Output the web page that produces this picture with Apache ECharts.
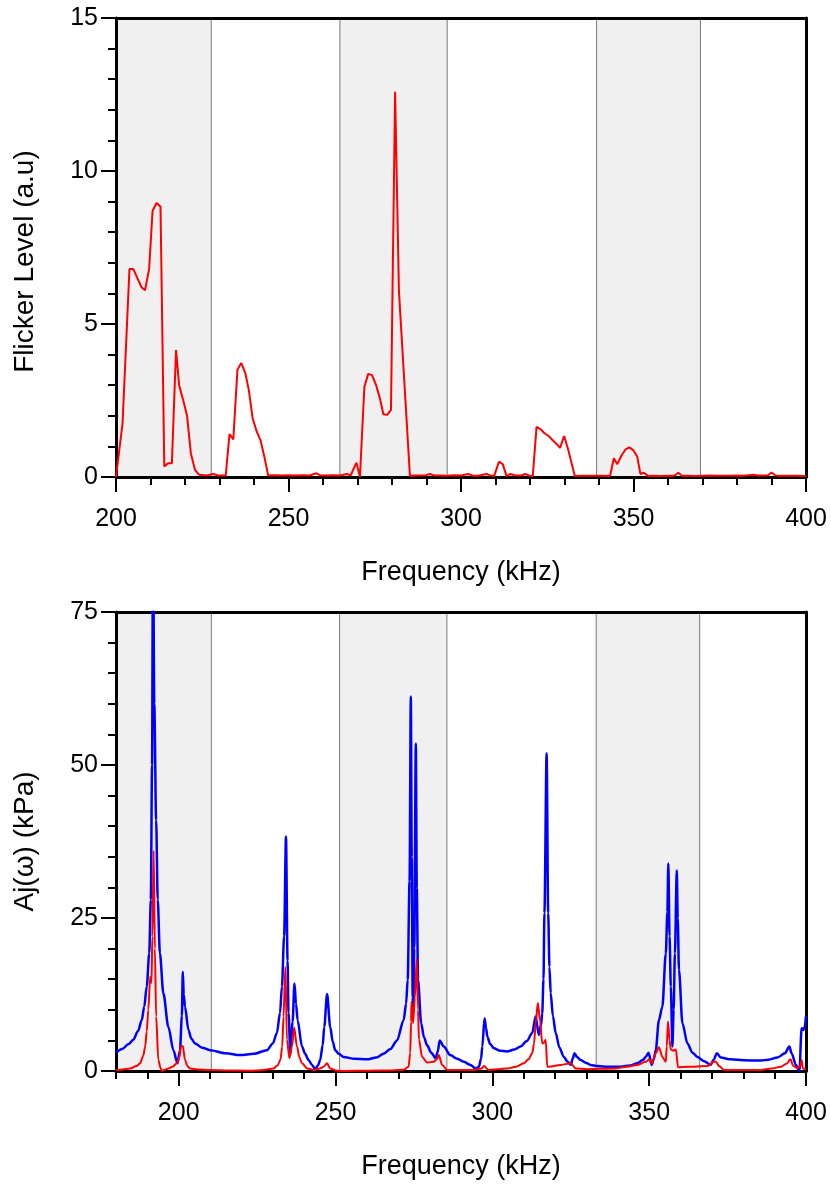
<!DOCTYPE html>
<html>
<head>
<meta charset="utf-8">
<script src="https://cdn.jsdelivr.net/npm/echarts@6/dist/echarts.min.js"></script>
<style>
  html, body { margin: 0; padding: 0; background: #fff; }
  #chart { width: 831px; height: 1184px; }
</style>
</head>
<body>
<div id="chart"></div>
<script>
// top panel: measured flicker level vs frequency [kHz, a.u]
const flickerData = [
  [200, 0], [201.9, 1.75], [203.9, 6.8], [205.0, 6.8], [206.2, 6.5], [207.4, 6.2], [208.4, 6.1],
  [209.6, 6.8], [210.6, 8.7], [211.8, 8.96], [212.9, 8.83], [214.0, 0.34], [215.1, 0.45], [216.2, 0.45],
  [217.4, 4.15], [218.3, 3.0], [219.5, 2.5], [220.6, 2.0], [221.7, 0.77], [222.9, 0.23], [224.1, 0.07],
  [226.3, 0.05], [228.2, 0.1], [229.6, 0.05], [231.8, 0.05], [232.9, 1.4], [234.0, 1.23], [235.2, 3.5],
  [236.3, 3.73], [237.5, 3.39], [238.5, 2.84], [239.6, 1.92], [240.8, 1.48], [241.9, 1.2], [243.1, 0.61],
  [244.1, 0.05], [246, 0.06], [248, 0.05], [250, 0.06], [252, 0.05], [254, 0.06], [256, 0.05],
  [258.1, 0.12], [259.2, 0.05], [261, 0.05], [263, 0.06], [265, 0.05], [266.9, 0.1], [268.0, 0.05],
  [269.7, 0.47], [270.7, 0], [272.0, 2.95], [273.1, 3.37], [274.2, 3.33], [275.4, 3.0], [276.5, 2.57],
  [277.5, 2.05], [278.6, 2.03], [279.7, 2.19], [280.9, 12.59], [282.0, 6.1], [285.2, 0.03], [286.4, 0.05],
  [288, 0.05], [289.8, 0.06], [291.0, 0.1], [292.2, 0.05], [294, 0.05], [296, 0.04], [298, 0.06],
  [300, 0.05], [302.1, 0.1], [303.3, 0.04], [305, 0.04], [307.4, 0.1], [308.5, 0.05], [309.6, 0.03],
  [311.0, 0.5], [312.1, 0.42], [313.2, 0.03], [314.4, 0.1], [315.6, 0.05], [317.4, 0.05], [318.6, 0.1],
  [319.8, 0.04], [320.8, 0.03], [321.9, 1.64], [323.1, 1.56], [324.2, 1.43], [325.4, 1.34], [326.5, 1.21],
  [327.7, 1.08], [328.7, 0.95], [329.9, 1.34], [331.1, 0.88], [332.0, 0.47], [333.0, 0.03], [335, 0.04],
  [337, 0.04], [339, 0.04], [341, 0.04], [343.2, 0.03], [344.3, 0.61], [345.3, 0.42], [346.6, 0.72],
  [347.7, 0.9], [348.8, 0.97], [349.9, 0.88], [351.1, 0.66], [352.0, 0.1], [353.0, 0.14], [354.3, 0.03],
  [356, 0.04], [358, 0.03], [360, 0.04], [361.8, 0.04], [363.0, 0.14], [364.1, 0.04], [366, 0.04],
  [368, 0.03], [370, 0.04], [372, 0.05], [374, 0.04], [376, 0.04], [378, 0.04], [380, 0.05], [382, 0.04],
  [384.8, 0.07], [386, 0.05], [388, 0.05], [389, 0.06], [390.0, 0.15], [391.1, 0.05], [393, 0.04],
  [395, 0.04], [397, 0.04], [400, 0.03]
]

// bottom panel: Aj(w) amplitude [kHz, kPa]
const blueData = [
  [180, 3.0], [182, 3.6], [184, 4.4], [185.5, 5.1], [187, 6.5], [188.2, 8.3], [189, 10.5], [189.8, 13.8],
  [190.6, 19.2], [191.1, 28], [191.5, 50], [191.8, 90], [192.2, 60], [192.8, 41], [193.3, 28], [194.0, 19.2],
  [195.1, 12.7], [196.7, 7.2], [198.3, 3.4], [199.6, 1.25], [200.4, 3.4], [201.0, 9], [201.3, 16.2],
  [201.6, 12.5], [202.0, 10.5], [203.1, 6.7], [204, 5.3], [205.2, 4.5], [207.5, 3.8], [210.0, 3.4],
  [215, 2.9], [219.6, 2.6], [224, 2.8], [228.1, 3.4], [230, 4.5], [231.3, 6.2], [232.3, 9.5], [232.9, 13.8],
  [233.6, 22], [234.2, 38.3], [234.7, 18], [235.0, 9.5], [235.6, 2.9], [236.3, 8], [236.9, 14.3],
  [237.4, 11], [237.9, 8.3], [239.3, 4.0], [240.3, 2.8], [241.4, 1.8], [242.5, 1.0], [243.5, 0.3],
  [244.4, 0.9], [245.1, 1.8], [245.9, 4.2], [246.4, 7.2], [247.3, 12.6], [248.3, 7.2], [249.1, 4.8],
  [249.9, 3.4], [251, 2.8], [252.6, 2.3], [256, 2.0], [260, 1.9], [263, 2.2], [265.3, 2.8], [267.5, 3.6],
  [269.6, 5.0], [271.7, 8.3], [272.5, 11], [273.0, 14.9], [273.6, 31], [274.0, 61.2], [274.3, 35],
  [274.6, 12], [274.8, 9.4], [275.1, 20], [275.6, 53.5], [275.9, 30], [276.3, 14.9], [277.3, 7.8],
  [278.2, 5.5], [279.2, 4.2], [280.5, 3.0], [281.9, 2.1], [282.6, 3.2], [283.2, 5.0], [284.5, 4.0],
  [286.6, 2.6], [288.8, 2.0], [290.9, 1.5], [293, 1.0], [294.6, 0.4], [295.7, 0.7], [296.4, 2.0],
  [296.8, 4.0], [297.5, 8.6], [298.0, 7.0], [298.4, 5.6], [299.3, 4.4], [300.5, 3.7], [302.5, 3.3],
  [304.7, 3.2], [307, 3.5], [309, 4.0], [311, 4.9], [312.7, 6.2], [313.8, 8.9], [314.8, 5.9], [315.5, 7.5],
  [315.9, 9.4], [316.3, 15], [316.6, 25.8], [317.3, 51.9], [317.8, 25.8], [318.2, 17], [318.6, 12.7],
  [319.3, 9], [320.2, 6.2], [321.4, 3.8], [322.8, 2.3], [324, 1.5], [325.0, 1.0], [325.6, 2], [326.2, 2.9],
  [327, 2.3], [328.1, 1.8], [330, 1.3], [331.3, 1.0], [333.5, 0.8], [337, 0.7], [340.9, 0.7], [344, 0.9],
  [346.2, 1.25], [348, 1.8], [348.9, 2.3], [349.8, 3.0], [350.8, 1.0], [351.5, 2], [352.1, 3.4],
  [353.1, 8.3], [354.2, 10.5], [355.3, 19.2], [355.8, 26], [356.1, 33.9], [356.5, 22], [356.9, 13.8],
  [357.4, 4.0], [357.8, 10], [358.2, 19.2], [358.8, 32.8], [359.1, 25], [359.5, 16.5], [360.6, 7.8],
  [362.2, 4.5], [363.8, 3.0], [365.4, 2.3], [367.5, 1.6], [369.6, 1.0], [370.5, 1.8], [371.6, 2.9],
  [372.8, 2.2], [376.0, 1.9], [380, 1.75], [385.6, 1.7], [388, 1.85], [390.9, 2.2], [393.3, 2.9],
  [394.7, 4.0], [395.4, 2.9], [396.8, 1.0], [397.9, 0], [398.6, 7.0], [399.2, 6.7], [399.6, 7.2], [400, 9]
]

const redData = [
  [180, 0.15], [182, 0.25], [184.5, 0.4], [186.5, 0.8], [187.7, 1.25], [188.7, 2.5], [189.3, 4.0],
  [189.8, 6.5], [190.3, 10], [190.9, 15.4], [191.3, 14.4], [191.6, 22], [192.0, 36.0], [192.4, 20],
  [192.8, 8.9], [193.5, 1.8], [194.2, 0.5], [194.6, 0], [195.5, 0.2], [196.7, 0.4], [198, 0.7],
  [199.4, 1.25], [200.2, 2.2], [200.7, 4.0], [201.3, 4.1], [202.0, 1.8], [202.8, 0.8], [203.6, 0.4],
  [206, 0.25], [210, 0.16], [216, 0.1], [222.8, 0.05], [227, 0.15], [230.2, 0.4], [231.5, 0.9],
  [232.4, 1.8], [233.0, 4], [233.4, 8.9], [234.0, 17.0], [234.5, 5.1], [235.3, 2.1], [236.1, 4.0],
  [236.8, 7.1], [237.7, 4.0], [238.5, 2.2], [239.3, 1.25], [241, 0.4], [243.0, 0.16], [245, 0.4],
  [246.2, 0.7], [247.3, 1.25], [248.3, 0.4], [250, 0.1], [252.6, 0], [260, 0.05], [268, 0.1],
  [271.7, 0.2], [273.3, 0.7], [273.8, 3], [274.1, 8.1], [274.2, 11.3], [274.7, 7.8], [275.3, 12],
  [275.9, 18.4], [276.3, 10], [276.6, 5.1], [277.6, 2.3], [279.2, 1.4], [281.3, 1.5], [282.4, 2.0],
  [282.9, 2.6], [284.0, 1.0], [285.6, 0.16], [290, 0.15], [294.1, 0.16], [296.5, 0.4], [297.3, 0.8],
  [298.9, 0.16], [302, 0.3], [304.7, 0.4], [307.5, 0.7], [310.0, 1.25], [311.5, 1.9], [312.7, 2.9],
  [313.3, 4.5], [313.8, 7.8], [314.5, 11.1], [315.2, 8.3], [315.9, 4.5], [316.4, 4.6], [317.0, 5.1],
  [317.5, 0.7], [318.0, 0.7], [321.8, 1.0], [325.0, 1.25], [326.6, 0.4], [330.3, 0.3], [334, 0.35],
  [338.8, 0.4], [343, 0.7], [346.2, 1.0], [348.9, 1.5], [350.0, 1.9], [350.8, 1.25], [352.1, 2.9],
  [353.1, 3.9], [354.2, 2.3], [355.3, 1.5], [355.6, 4], [356.0, 8.1], [356.5, 5], [356.9, 3.5],
  [357.7, 3.3], [358.5, 3.5], [359.2, 0.6], [362.2, 0.7], [368.6, 0.8], [370.5, 1.5], [371.3, 1.5],
  [372.3, 0.8], [373.9, 0.16], [380, 0.15], [385.6, 0.16], [389, 0.4], [392.0, 0.7], [393.8, 1.2],
  [395.0, 1.9], [396.0, 0.8], [397.3, 0.4], [398.2, 0.9], [398.6, 1.8], [399.0, 0.4], [400, 0.3]
]

// shaded frequency bands [from, to] in kHz
const topBands = [[200, 227.6], [264.9, 296.0], [339.3, 369.4]]
const bottomBands = [[180, 210.4], [251.3, 285.5], [333.1, 366.1]]

const topXLabels = [200, 250, 300, 350, 400]
const bottomXLabels = [200, 250, 300, 350, 400]

const font = 'Liberation Sans, Arial, sans-serif'
const black = '#000'

function bandArea (bands) {
  return {
    silent: true,
    itemStyle: { color: '#f0f0f0', borderColor: '#7a7a7a', borderWidth: 1 },
    data: bands.map(b => [{ xAxis: b[0] }, { xAxis: b[1] }])
  }
}

function frameAxis (pos, gridIndex) {
  return {
    type: 'value',
    gridIndex: gridIndex,
    position: pos,
    z: 5,
    axisLine: { show: true, onZero: false, lineStyle: { color: black, width: 3 } },
    axisTick: { show: false },
    axisLabel: { show: false },
    splitLine: { show: false }
  }
}

const labelStyle = { color: black, fontSize: 25, fontFamily: font }
const xNameStyle = { color: black, fontSize: 27, fontFamily: font }
const yNameStyle = { color: black, fontSize: 28, fontFamily: font }

const chart = echarts.init(document.getElementById('chart'))

chart.setOption({
  animation: false,
  backgroundColor: '#fff',
  grid: [
    { left: 116, top: 18, width: 690, height: 459 },
    { left: 116, top: 612, width: 690, height: 459 }
  ],
  xAxis: [
    {
      type: 'value',
      gridIndex: 0,
      position: 'bottom',
      min: 200,
      max: 400,
      interval: 50,
      z: 5,
      name: 'Frequency (kHz)',
      nameLocation: 'middle',
      nameGap: 82,
      nameTextStyle: xNameStyle,
      axisLine: { onZero: false, lineStyle: { color: black, width: 3 } },
      axisTick: { inside: false, length: 15, lineStyle: { color: black, width: 2 } },
      minorTick: { show: true, splitNumber: 5, length: 8, lineStyle: { color: black, width: 2 } },
      axisLabel: Object.assign({ margin: 30, customValues: topXLabels }, labelStyle),
      splitLine: { show: false }
    },
    frameAxis('top', 0),
    {
      type: 'value',
      gridIndex: 1,
      position: 'bottom',
      min: 180,
      max: 400,
      z: 5,
      name: 'Frequency (kHz)',
      nameLocation: 'middle',
      nameGap: 82,
      nameTextStyle: xNameStyle,
      axisLine: { onZero: false, lineStyle: { color: black, width: 3 } },
      axisTick: { length: 15, customValues: bottomXLabels, lineStyle: { color: black, width: 2 } },
      axisLabel: Object.assign({ margin: 30, customValues: bottomXLabels }, labelStyle),
      splitLine: { show: false }
    },
    {
      // minor ticks every 10 kHz for the lower panel
      type: 'value',
      gridIndex: 1,
      position: 'bottom',
      min: 180,
      max: 400,
      interval: 10,
      z: 4,
      axisLine: { show: false, onZero: false },
      axisTick: { length: 8, lineStyle: { color: black, width: 2 } },
      axisLabel: { show: false },
      splitLine: { show: false }
    },
    frameAxis('top', 1)
  ],
  yAxis: [
    {
      type: 'value',
      gridIndex: 0,
      position: 'left',
      min: 0,
      max: 15,
      interval: 5,
      z: 5,
      name: 'Flicker Level (a.u)',
      nameLocation: 'middle',
      nameGap: 77,
      nameTextStyle: Object.assign({ padding: [0, 28, 0, 0] }, yNameStyle),
      axisLine: { show: true, onZero: false, lineStyle: { color: black, width: 3 } },
      axisTick: { show: true, length: 15, lineStyle: { color: black, width: 2 } },
      minorTick: { show: true, splitNumber: 5, length: 8, lineStyle: { color: black, width: 2 } },
      axisLabel: Object.assign({ margin: 18 }, labelStyle),
      splitLine: { show: false }
    },
    frameAxis('right', 0),
    {
      type: 'value',
      gridIndex: 1,
      position: 'left',
      min: 0,
      max: 75,
      interval: 25,
      z: 5,
      name: 'Aj(ω) (kPa)',
      nameLocation: 'middle',
      nameGap: 77,
      nameTextStyle: yNameStyle,
      axisLine: { show: true, onZero: false, lineStyle: { color: black, width: 3 } },
      axisTick: { show: true, length: 15, lineStyle: { color: black, width: 2 } },
      minorTick: { show: true, splitNumber: 5, length: 8, lineStyle: { color: black, width: 2 } },
      axisLabel: Object.assign({ margin: 18 }, labelStyle),
      splitLine: { show: false }
    },
    frameAxis('right', 1)
  ],
  series: [
    {
      name: 'bandsTop',
      type: 'line',
      xAxisIndex: 0,
      yAxisIndex: 0,
      data: [],
      z: 1,
      markArea: bandArea(topBands)
    },
    {
      name: 'Flicker',
      type: 'line',
      xAxisIndex: 0,
      yAxisIndex: 0,
      data: flickerData,
      z: 6,
      symbol: 'none',
      lineStyle: { color: '#ff0000', width: 2 }
    },
    {
      name: 'bandsBottom',
      type: 'line',
      xAxisIndex: 2,
      yAxisIndex: 2,
      data: [],
      z: 1,
      markArea: bandArea(bottomBands)
    },
    {
      name: 'Aj blue',
      type: 'line',
      xAxisIndex: 2,
      yAxisIndex: 2,
      data: blueData,
      z: 6,
      symbol: 'none',
      smooth: 0.3,
      smoothMonotone: 'x',
      clip: true,
      lineStyle: { color: '#0000ff', width: 2.5 }
    },
    {
      name: 'Aj red',
      type: 'line',
      xAxisIndex: 2,
      yAxisIndex: 2,
      data: redData,
      z: 7,
      symbol: 'none',
      smooth: 0.3,
      smoothMonotone: 'x',
      clip: true,
      lineStyle: { color: '#ff0000', width: 2 }
    }
  ]
})
</script>
</body>
</html>
